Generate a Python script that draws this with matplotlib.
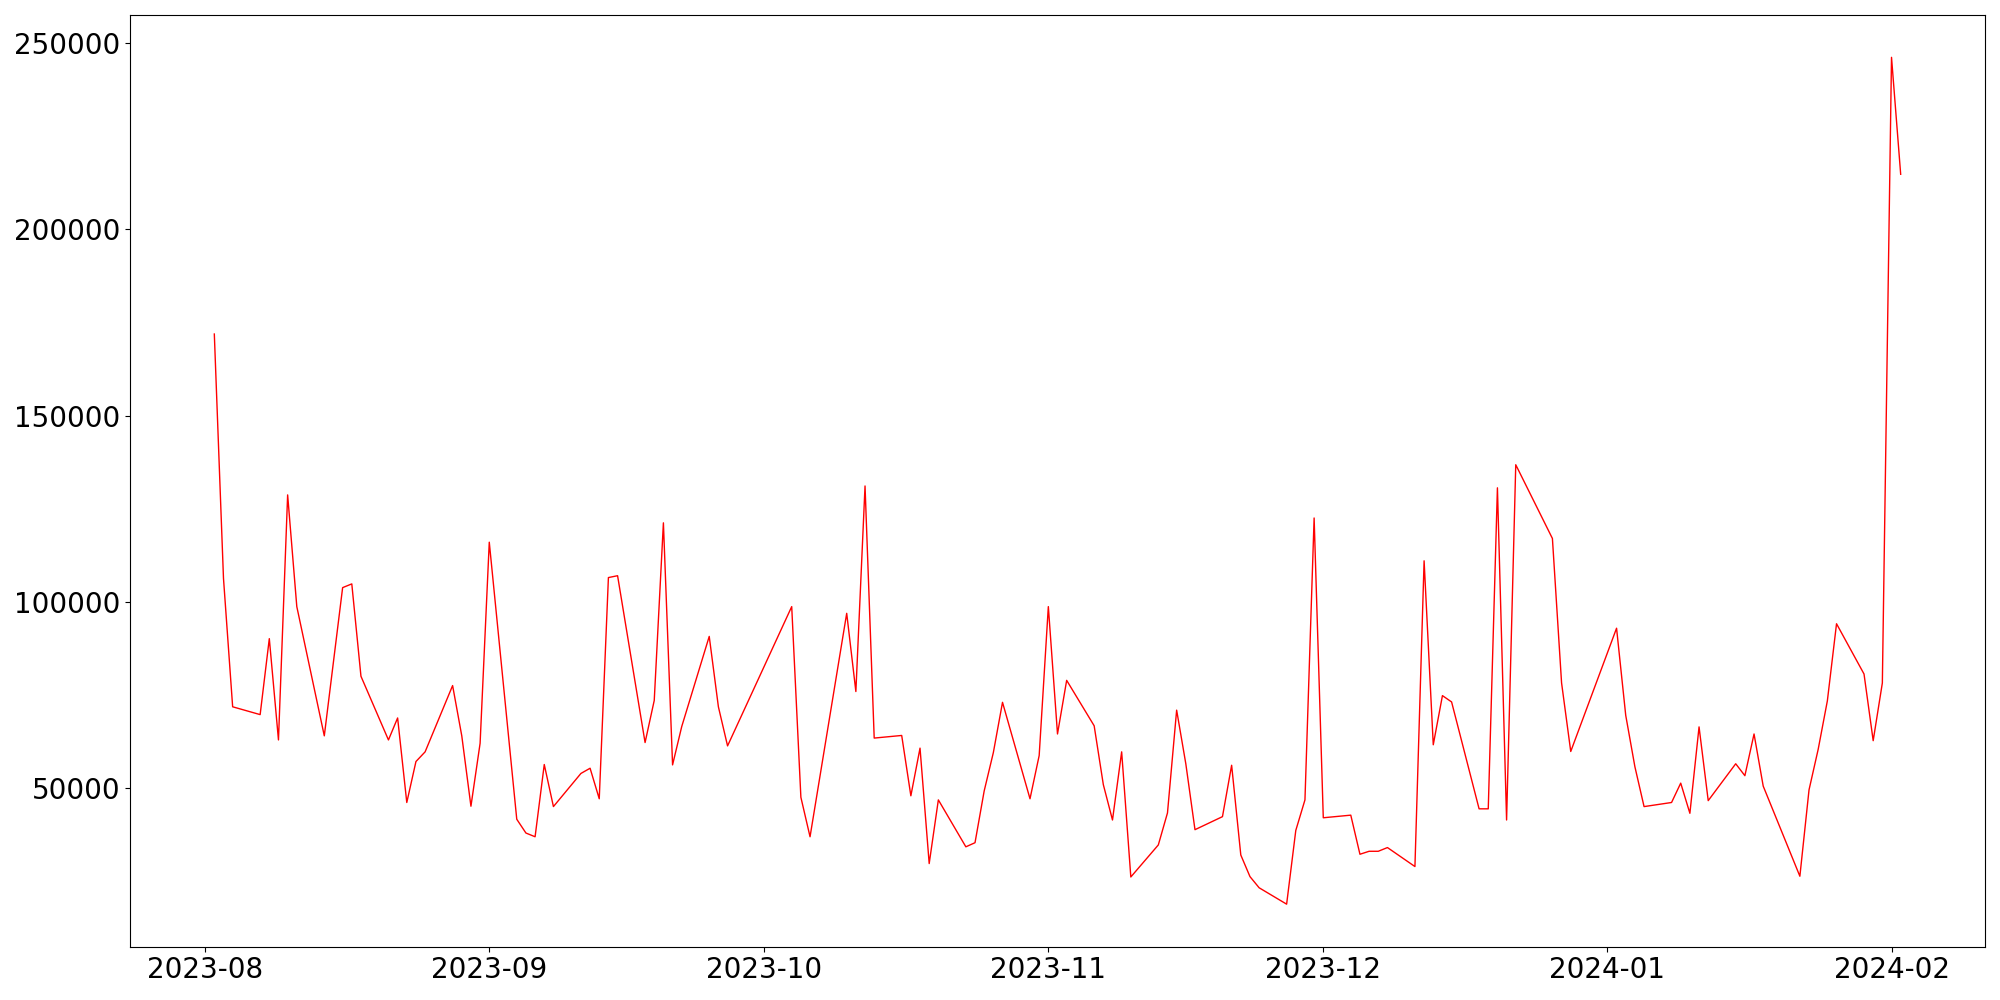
import pandas as pd
import matplotlib
matplotlib.use('Agg')
import matplotlib.pyplot as plt
import matplotlib.dates as mdates

# trading days (KRX calendar) and daily values
dates = [
    '2023-08-02', '2023-08-03', '2023-08-04', '2023-08-07', '2023-08-08', '2023-08-09',
    '2023-08-10', '2023-08-11', '2023-08-14', '2023-08-16', '2023-08-17', '2023-08-18',
    '2023-08-21', '2023-08-22', '2023-08-23', '2023-08-24', '2023-08-25', '2023-08-28',
    '2023-08-29', '2023-08-30', '2023-08-31', '2023-09-01', '2023-09-04', '2023-09-05',
    '2023-09-06', '2023-09-07', '2023-09-08', '2023-09-11', '2023-09-12', '2023-09-13',
    '2023-09-14', '2023-09-15', '2023-09-18', '2023-09-19', '2023-09-20', '2023-09-21',
    '2023-09-22', '2023-09-25', '2023-09-26', '2023-09-27', '2023-10-04', '2023-10-05',
    '2023-10-06', '2023-10-10', '2023-10-11', '2023-10-12', '2023-10-13', '2023-10-16',
    '2023-10-17', '2023-10-18', '2023-10-19', '2023-10-20', '2023-10-23', '2023-10-24',
    '2023-10-25', '2023-10-26', '2023-10-27', '2023-10-30', '2023-10-31', '2023-11-01',
    '2023-11-02', '2023-11-03', '2023-11-06', '2023-11-07', '2023-11-08', '2023-11-09',
    '2023-11-10', '2023-11-13', '2023-11-14', '2023-11-15', '2023-11-16', '2023-11-17',
    '2023-11-20', '2023-11-21', '2023-11-22', '2023-11-23', '2023-11-24', '2023-11-27',
    '2023-11-28', '2023-11-29', '2023-11-30', '2023-12-01', '2023-12-04', '2023-12-05',
    '2023-12-06', '2023-12-07', '2023-12-08', '2023-12-11', '2023-12-12', '2023-12-13',
    '2023-12-14', '2023-12-15', '2023-12-18', '2023-12-19', '2023-12-20', '2023-12-21',
    '2023-12-22', '2023-12-26', '2023-12-27', '2023-12-28', '2024-01-02', '2024-01-03',
    '2024-01-04', '2024-01-05', '2024-01-08', '2024-01-09', '2024-01-10', '2024-01-11',
    '2024-01-12', '2024-01-15', '2024-01-16', '2024-01-17', '2024-01-18', '2024-01-22',
    '2024-01-23', '2024-01-24', '2024-01-25', '2024-01-26', '2024-01-29', '2024-01-30',
    '2024-01-31', '2024-02-01', '2024-02-02',
]

values = [
    171900, 106300, 71800, 69700, 90100, 62900,
    128700, 98700, 64000, 103800, 104800, 80000,
    62900, 68800, 46100, 57100, 59700, 77500,
    64000, 45100, 62000, 116000, 41600, 37900,
    36900, 56300, 45000, 53900, 55300, 47100,
    106500, 107000, 62200, 73500, 121200, 56200,
    66500, 90700, 71800, 61300, 98700, 47500,
    36900, 96900, 75900, 131100, 63400, 64100,
    47900, 60700, 29700, 46800, 34200, 35300,
    49200, 59500, 73000, 47100, 58700, 98700,
    64500, 78900, 66700, 50900, 41400, 59700,
    26100, 34700, 43300, 70900, 56500, 38800,
    42300, 56100, 32000, 26200, 23200, 18800,
    38600, 46800, 122500, 42000, 42700, 32200,
    33000, 33000, 34000, 28900, 111000, 61600,
    74800, 73100, 44400, 44400, 130600, 41400,
    136800, 117000, 78200, 59800, 92900, 69500,
    55700, 45000, 46100, 51300, 43200, 66400,
    46600, 56500, 53300, 64500, 50500, 26300,
    49500, 60400, 73400, 94100, 80600, 62700,
    78200, 246200, 214800,
]

df = pd.DataFrame({'date': pd.to_datetime(dates), 'value': values})

fig, ax = plt.subplots(figsize=(20, 10), dpi=100)
ax.plot(df['date'], df['value'], color='red', linewidth=1)

ax.xaxis.set_major_locator(mdates.MonthLocator())
ax.xaxis.set_major_formatter(mdates.DateFormatter('%Y-%m'))
ax.tick_params(axis='both', labelsize=20)

plt.subplots_adjust(left=0.065, right=0.9925, top=0.985, bottom=0.0535)
plt.savefig('out.png')
